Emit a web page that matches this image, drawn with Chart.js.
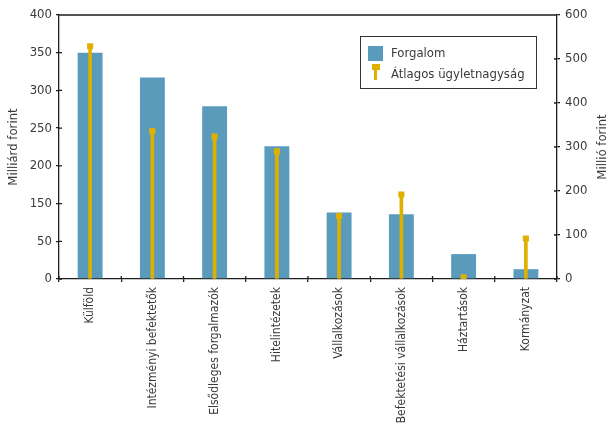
<!DOCTYPE html>
<html>
<head>
<meta charset="utf-8">
<script src="https://cdn.jsdelivr.net/npm/chart.js@4.4.0/dist/chart.umd.min.js"></script>
<style>
html, body { margin: 0; padding: 0; background: #fff; }
#wrap { width: 610px; height: 425px; }
</style>
</head>
<body>
<div id="wrap"><canvas id="chart"></canvas></div>
<script>
// adatok
const categories = ['Külföld', 'Intézményi befektetők', 'Elsődleges forgalmazók', 'Hitelintézetek',
    'Vállalkozások', 'Befektetési vállalkozások', 'Háztartások', 'Kormányzat'];
const forgalom = [300, 267, 229, 176, 88, 86, 33, 13];          // bal tengely (milliárd forint)
const atlagosUgylet = [529, 336, 324, 290, 143, 192, 4, 92];    // jobb tengely (millió forint)
const leftTickLabels = ['0', '50', '150', '200', '250', '300', '350', '400'];

const FONT = "'DejaVu Sans Condensed', 'Liberation Sans Narrow', sans-serif";
const FSIZE = 13;
const BLUE = '#5a9bbc';
const GOLD = '#dfb000';
const AXIS = '#1e1e1e';
const TEXT = '#3a3a3a';

Chart.defaults.font.family = FONT;
Chart.defaults.font.size = FSIZE;
Chart.defaults.color = TEXT;

// keret, belső osztásjelek, jobb tengelycím, jelmagyarázat
const decorations = {
    id: 'decorations',
    afterDraw(chart) {
        const ctx = chart.ctx;
        const a = chart.chartArea;
        const x = chart.scales.x, y = chart.scales.y, y1 = chart.scales.y1;
        ctx.save();
        ctx.strokeStyle = AXIS;
        ctx.lineWidth = 1.3;
        ctx.beginPath();
        ctx.moveTo(a.left, a.top);
        ctx.lineTo(a.right, a.top);
        y.ticks.forEach(t => {
            const p = y.getPixelForValue(t.value);
            ctx.moveTo(a.left, p);
            ctx.lineTo(a.left + 3, p);
        });
        y1.ticks.forEach(t => {
            const p = y1.getPixelForValue(t.value);
            ctx.moveTo(a.right, p);
            ctx.lineTo(a.right - 3, p);
        });
        const half = (x.getPixelForValue(1) - x.getPixelForValue(0)) / 2;
        for (let i = 0; i <= categories.length; i++) {
            const p = x.getPixelForValue(0) - half + i * half * 2;
            ctx.moveTo(p, a.bottom);
            ctx.lineTo(p, a.bottom - 3);
        }
        ctx.stroke();

        // jobb tengely címe
        ctx.fillStyle = TEXT;
        ctx.font = FSIZE + 'px ' + FONT;
        ctx.textAlign = 'center';
        ctx.textBaseline = 'middle';
        ctx.translate(603, (a.top + a.bottom) / 2);
        ctx.rotate(-Math.PI / 2);
        ctx.fillText('Millió forint', 0, 0);
        ctx.restore();

        // jelmagyarázat
        ctx.save();
        ctx.strokeStyle = '#333';
        ctx.lineWidth = 1;
        ctx.strokeRect(360.5, 36.5, 176, 52);
        ctx.fillStyle = BLUE;
        ctx.fillRect(368, 46, 15, 15);
        ctx.fillStyle = GOLD;
        ctx.fillRect(374, 67, 3, 13);
        ctx.fillRect(372, 64, 8, 6);
        ctx.fillStyle = TEXT;
        ctx.font = FSIZE + 'px ' + FONT;
        ctx.textAlign = 'left';
        ctx.textBaseline = 'middle';
        ctx.fillText(chart.data.datasets[2].label, 391, 54);
        ctx.fillText(chart.data.datasets[0].label, 391, 75);
        ctx.restore();
    }
};

const ctx = document.getElementById('chart').getContext('2d');
new Chart(ctx, {
    type: 'bar',
    data: {
        labels: categories,
        datasets: [{
            type: 'line',
            label: 'Átlagos ügyletnagyság',
            data: atlagosUgylet,
            yAxisID: 'y1',
            showLine: false,
            pointStyle: 'rect',
            pointRadius: 4.3,
            pointHoverRadius: 4.3,
            pointBackgroundColor: GOLD,
            pointBorderWidth: 0,
            order: 0
        }, {
            label: 'Átlagos ügyletnagyság (szár)',
            data: atlagosUgylet,
            yAxisID: 'y1',
            backgroundColor: GOLD,
            barThickness: 3,
            grouped: false,
            order: 1
        }, {
            label: 'Forgalom',
            data: forgalom,
            yAxisID: 'y',
            backgroundColor: BLUE,
            barPercentage: 0.4,
            categoryPercentage: 1,
            grouped: false,
            order: 2
        }]
    },
    options: {
        responsive: true,
        maintainAspectRatio: false,
        animation: false,
        layout: { padding: { top: 15, left: 0, right: 0, bottom: 0 } },
        plugins: {
            legend: { display: false },
            tooltip: { enabled: false }
        },
        scales: {
            x: {
                grid: { drawOnChartArea: false, tickLength: 3, color: AXIS, lineWidth: 1.3 },
                border: { color: AXIS, width: 1.3 },
                ticks: { maxRotation: 90, minRotation: 90, autoSkip: false, padding: 5, font: { size: 12 } },
                afterFit: s => { s.height = 146; }
            },
            y: {
                position: 'left',
                min: 0,
                max: 350,
                ticks: { stepSize: 50, padding: 4, callback: (v, i) => leftTickLabels[i] },
                grid: { drawOnChartArea: false, tickLength: 3, color: AXIS, lineWidth: 1.3 },
                border: { color: AXIS, width: 1.3 },
                title: { display: true, text: 'Milliárd forint', padding: { top: 6, bottom: 0 } },
                afterFit: s => { s.width = 59; }
            },
            y1: {
                position: 'right',
                min: 0,
                max: 600,
                ticks: { stepSize: 100, padding: 5 },
                grid: { drawOnChartArea: false, tickLength: 3, color: AXIS, lineWidth: 1.3 },
                border: { color: AXIS, width: 1.3 },
                afterFit: s => { s.width = 53; }
            }
        }
    },
    plugins: [decorations]
});
</script>
</body>
</html>
